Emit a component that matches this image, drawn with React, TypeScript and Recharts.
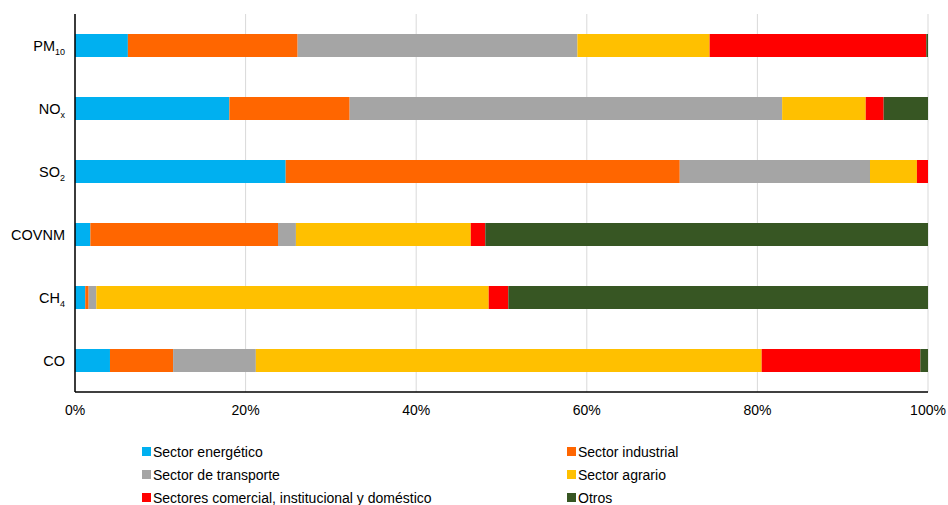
import React from "react";
import {
	BarChart,
	Bar,
	XAxis,
	YAxis,
	CartesianGrid,
} from "recharts";

const categories = ["PM10", "NOx", "SO2", "COVNM", "CH4", "CO"];

// [base, subscript] of each axis label
const categoryLabels: Array<[string, string]> = [
	["PM", "10"],
	["NO", "x"],
	["SO", "2"],
	["COVNM", ""],
	["CH", "4"],
	["CO", ""],
];

const energetico = [6.2, 18.1, 24.7, 1.8, 1.2, 4.1];
const industrial = [19.9, 14.1, 46.2, 22.0, 0.4, 7.4];
const transporte = [32.8, 50.7, 22.3, 2.1, 0.9, 9.7];
const agrario = [15.5, 9.8, 5.5, 20.5, 46.0, 59.3];
const comercial = [25.4, 2.1, 1.3, 1.7, 2.3, 18.6];
const otros = [0.2, 5.2, 0.0, 51.9, 49.2, 0.9];

const xTicks = [0, 20, 40, 60, 80, 100];

const series = [
	{ key: "energetico", name: "Sector energético", color: "#00B0F0", values: energetico },
	{ key: "industrial", name: "Sector industrial", color: "#FF6600", values: industrial },
	{ key: "transporte", name: "Sector de transporte", color: "#A5A5A5", values: transporte },
	{ key: "agrario", name: "Sector agrario", color: "#FFC000", values: agrario },
	{ key: "comercial", name: "Sectores comercial, institucional y doméstico", color: "#FF0000", values: comercial },
	{ key: "otros", name: "Otros", color: "#375623", values: otros },
];

const data = categories.map((c, i) => {
	const row: Record<string, string | number> = { name: c };
	series.forEach((s) => {
		row[s.key] = s.values[i];
	});
	return row;
});

const font = "'Liberation Sans', Arial, sans-serif";

function CategoryTick(props: any) {
	const { x, y, payload } = props;
	const idx = categories.indexOf(payload.value);
	const [base, sub] = categoryLabels[idx] ?? [payload.value, ""];
	return (
		<text
			x={x - 2}
			y={y}
			dy={5}
			textAnchor="end"
			fontSize={14.5}
			fontFamily={font}
			fill="#000"
		>
			{base}
			{sub && (
				<tspan fontSize={9} dy={4}>
					{sub}
				</tspan>
			)}
		</text>
	);
}

export default function App() {
	return (
		<div style={{ position: "absolute", left: 0, top: 0, width: 948, height: 505, background: "#fff", overflow: "hidden" }}>
			<BarChart
				width={948}
				height={505}
				data={data}
				layout="vertical"
				margin={{ top: 14, right: 20, bottom: 83, left: 0 }}
				barSize={23}
			>
				<CartesianGrid horizontal={false} stroke="#d9d9d9" />
				<XAxis
					type="number"
					domain={[0, 100]}
					ticks={xTicks}
					tickFormatter={(v: number) => `${v}%`}
					tickLine={false}
					axisLine={{ stroke: "#000", strokeWidth: 1.5 }}
					tick={{ fontSize: 14, fontFamily: font, fill: "#000" }}
					tickMargin={7}
					height={30}
				/>
				<YAxis
					type="category"
					dataKey="name"
					width={75}
					tickLine={false}
					axisLine={{ stroke: "#000", strokeWidth: 1.5 }}
					tick={<CategoryTick />}
				/>
				{series.map((s) => (
					<Bar
						key={s.key}
						dataKey={s.key}
						name={s.name}
						stackId="a"
						fill={s.color}
						isAnimationActive={false}
					/>
				))}
			</BarChart>
			<div
				style={{
					position: "absolute",
					left: 142,
					top: 440,
					width: 700,
					display: "grid",
					gridTemplateColumns: "425px 275px",
					fontFamily: font,
					fontSize: 14,
					color: "#000",
				}}
			>
				{series.map((s) => (
					<div key={s.key} style={{ display: "flex", alignItems: "center", height: 23, whiteSpace: "nowrap" }}>
						<span style={{ display: "inline-block", width: 9, height: 9, background: s.color, marginRight: 2 }} />
						{s.name}
					</div>
				))}
			</div>
		</div>
	);
}
